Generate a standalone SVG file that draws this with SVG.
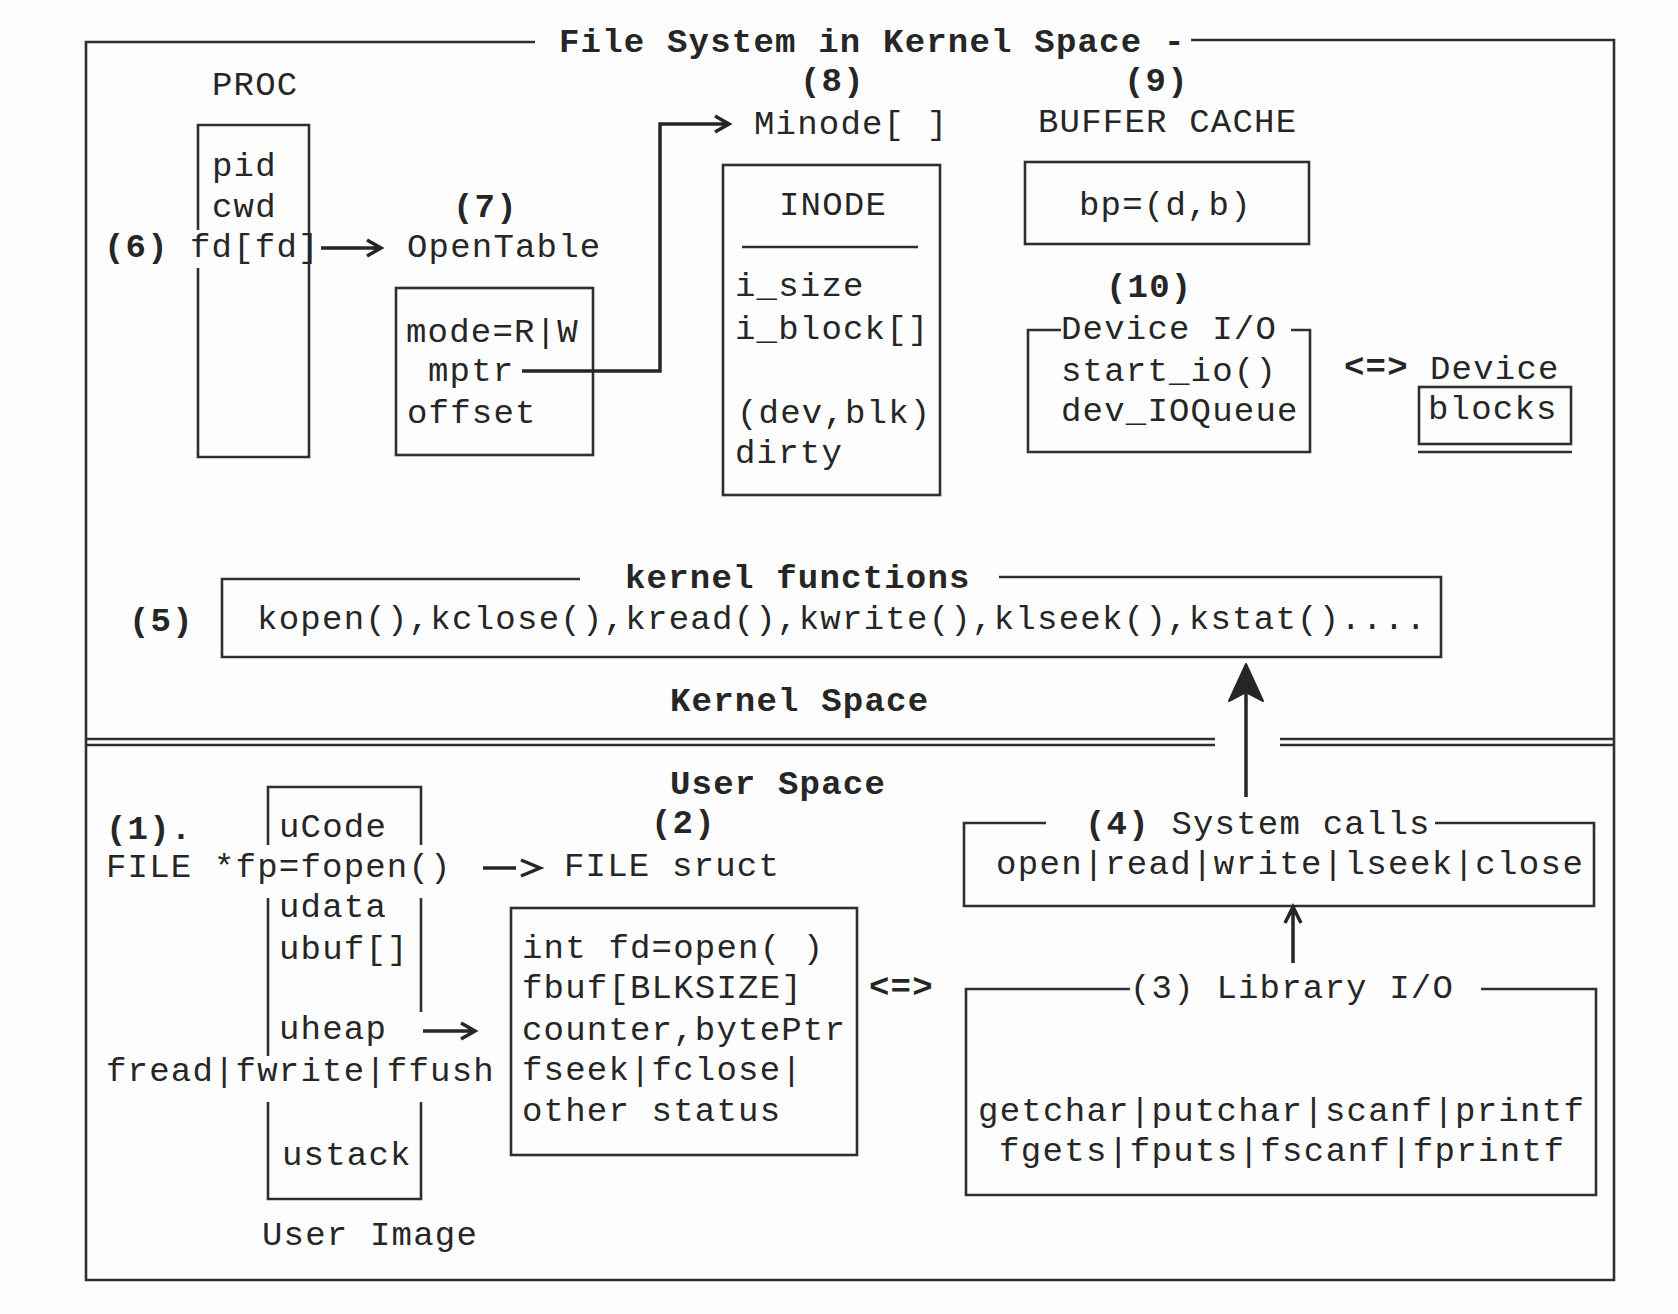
<svg xmlns="http://www.w3.org/2000/svg" width="1678" height="1314" viewBox="0 0 1678 1314">
<style>
text{font-family:"Liberation Mono","DejaVu Sans Mono",monospace;font-size:34px;letter-spacing:1.2px;fill:#262626}
.b{font-weight:bold}
.box{fill:none;stroke:#303030;stroke-width:2.6}
.ln{fill:none;stroke:#303030;stroke-width:2.6}
.arr{fill:none;stroke:#262626;stroke-width:3.5;stroke-linejoin:miter}
</style>
<rect width="1678" height="1314" fill="#fdfdfd"/>
<g id="frame">
<path class="box" d="M535,42 H86 V1280 H1614 V40 H1191"/>
<text class="b" x="559" y="52">File System in Kernel Space -</text>
<path class="ln" d="M86,739 H1215 M1280,739 H1614" stroke-width="3.2"/>
<path class="ln" d="M86,745 H1215 M1280,745 H1614" stroke-width="2"/>
<text class="b" x="670" y="711">Kernel Space</text>
<text class="b" x="670" y="794">User Space</text>
</g>
<g id="proc">
<text x="212" y="95">PROC</text>
<path class="box" d="M198,230 V125 H309 V457 H198 V268"/>
<text x="212" y="176">pid</text>
<text x="212" y="217">cwd</text>
<text class="b" x="104" y="257">(6)</text>
<text x="190" y="257">fd[fd]</text>
</g>
<g id="opentable">
<text class="b" x="453" y="217">(7)</text>
<text x="407" y="257">OpenTable</text>
<rect class="box" x="396" y="288" width="197" height="167"/>
<text x="406" y="342">mode=R|W</text>
<text x="428" y="381">mptr</text>
<text x="407" y="423">offset</text>
</g>
<g id="minode">
<text class="b" x="800" y="91">(8)</text>
<text x="754" y="134">Minode[ ]</text>
<rect class="box" x="723" y="165" width="217" height="330"/>
<text x="779" y="215">INODE</text>
<path class="ln" d="M742,247 H918"/>
<text x="735" y="296">i_size</text>
<text x="735" y="339">i_block[]</text>
<text x="737" y="423">(dev,blk)</text>
<text x="735" y="463">dirty</text>
</g>
<g id="buffercache">
<text class="b" x="1124" y="91">(9)</text>
<text x="1038" y="132">BUFFER CACHE</text>
<rect class="box" x="1025" y="162" width="284" height="82"/>
<text x="1079" y="215">bp=(d,b)</text>
</g>
<g id="deviceio">
<text class="b" x="1106" y="297">(10)</text>
<path class="box" d="M1061,330 H1028 V452 H1310 V330 H1291"/>
<text x="1061" y="339">Device I/O</text>
<text x="1061" y="381">start_io()</text>
<text x="1061" y="421">dev_IOQueue</text>
</g>
<g id="device">
<text class="b" x="1344" y="377">&lt;=&gt;</text>
<text x="1430" y="379">Device</text>
<rect class="box" x="1419" y="387" width="152" height="57"/>
<path class="ln" d="M1418,452 H1572"/>
<text x="1428" y="419">blocks</text>
</g>
<g id="kernelfunctions">
<path class="box" d="M580,579 H222 V657 H1441 V577 H999"/>
<text class="b" x="625" y="588">kernel functions</text>
<text class="b" x="129" y="631">(5)</text>
<text x="257" y="629" textLength="1170">kopen(),kclose(),kread(),kwrite(),klseek(),kstat()....</text>
</g>
<g id="userimage">
<path class="box" d="M268,845 V787 H421 V845 M421,898 V1012 M421,1102 V1199 H268 V1102 M268,1056 V898"/>
<text class="b" x="106" y="839">(1).</text>
<text x="279" y="837">uCode</text>
<text x="106" y="877">FILE *fp=fopen()</text>
<text x="279" y="917">udata</text>
<text x="279" y="959">ubuf[]</text>
<text x="279" y="1039">uheap</text>
<text x="106" y="1081">fread|fwrite|ffush</text>
<text x="282" y="1165">ustack</text>
<text x="262" y="1245">User Image</text>
</g>
<g id="filestruct">
<text class="b" x="651" y="833">(2)</text>
<text x="564" y="876">FILE sruct</text>
<rect class="box" x="511" y="908" width="346" height="247"/>
<text x="522" y="958">int fd=open( )</text>
<text x="522" y="998">fbuf[BLKSIZE]</text>
<text x="522" y="1040">counter,bytePtr</text>
<text x="522" y="1080">fseek|fclose|</text>
<text x="522" y="1121">other status</text>
<text class="b" x="869" y="997">&lt;=&gt;</text>
</g>
<g id="systemcalls">
<path class="box" d="M1046,823 H964 V906 H1594 V823 H1435"/>
<text x="1085" y="834"><tspan class="b">(4)</tspan> System calls</text>
<text x="996" y="874" textLength="588">open|read|write|lseek|close</text>
</g>
<g id="libraryio">
<path class="box" d="M1130,989 H966 V1195 H1596 V989 H1481"/>
<text x="1130" y="998">(3) Library I/O</text>
<text x="978" y="1121" textLength="607">getchar|putchar|scanf|printf</text>
<text x="999" y="1161" textLength="566">fgets|fputs|fscanf|fprintf</text>
</g>
<g id="connectors">
<path class="arr" d="M321,248 H380 M367,240 L381,248 L367,256"/>
<path class="arr" stroke-width="4" d="M522,371 H660 V124 H727 M715,116 L729,124 L715,132"/>
<path class="arr" stroke-width="6.5" d="M483,868 H516"/>
<path class="arr" stroke-width="3" d="M521,860 L540,868 L521,876"/>
<path class="arr" d="M423,1031 H473 M461,1023 L475,1031 L461,1039"/>
<path class="arr" stroke-width="2.8" d="M1293,963 V909 M1285,923 L1293,907 L1301,923"/>
<path class="arr" stroke-width="9" d="M1246,797 V690"/>
<polygon points="1246,664 1263,701 1246,692 1229,701" fill="#262626" stroke="#262626" stroke-width="2" stroke-linejoin="round"/>
</g>
</svg>
